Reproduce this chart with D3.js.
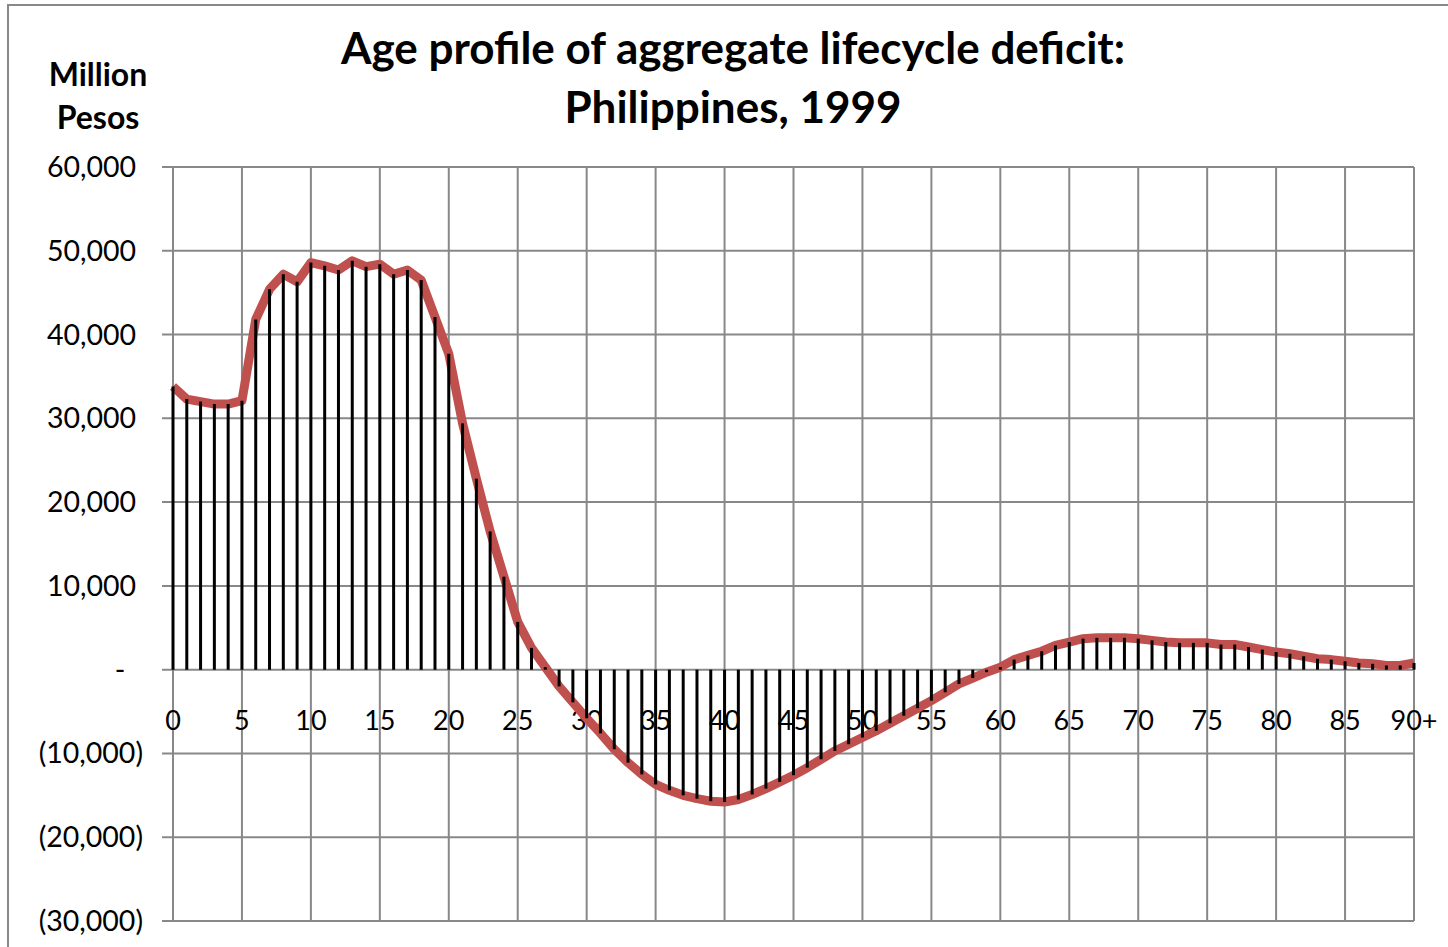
<!DOCTYPE html>
<html>
<head>
<meta charset="utf-8">
<script src="https://cdn.jsdelivr.net/npm/d3@7"></script>
<style>
  body { margin: 0; background: #fff; }
  svg { display: block; font-family: Lato, "Open Sans", sans-serif; }
</style>
</head>
<body>
<svg id="chart" width="1448" height="947"></svg>
<script>
// age profile of aggregate lifecycle deficit, million pesos, ages 0..90+
var ages = d3.range(0, 91);
var deficit = [
  33800, 32300, 32000, 31700, 31700, 32100, 41800, 45400, 47200, 46300,
  48600, 48200, 47700, 48800, 48100, 48400, 47200, 47700, 46500, 42100,
  37700, 29400, 22800, 16500, 11100, 5700, 2600, 300, -2000, -3900,
  -5800, -7600, -9500, -11100, -12500, -13700, -14400, -15000, -15400, -15700,
  -15800, -15500, -14900, -14200, -13400, -12600, -11700, -10700, -9700, -8900,
  -8100, -7300, -6400, -5500, -4600, -3700, -2700, -1700, -1000, -300,
  300, 1200, 1700, 2200, 2900, 3300, 3700, 3800, 3800, 3800,
  3700, 3500, 3300, 3200, 3200, 3200, 3000, 3000, 2700, 2400,
  2100, 1900, 1600, 1300, 1200, 1000, 800, 700, 500, 500,
  800
];
var yTicks = [-30000, -20000, -10000, 0, 10000, 20000, 30000, 40000, 50000, 60000];
var xTicks = d3.range(0, 91, 5);
var xTickLabels = xTicks.map(function(a) { return a === 90 ? "90+" : String(a); });
var titleLines = ["Age profile of aggregate lifecycle deficit:", "Philippines, 1999"];
var unitLines = ["Million", "Pesos"];

var svg = d3.select("#chart");
var GRID = "#888888", RED = "#C0504D";

var x = d3.scaleLinear().domain([0, 90]).range([173, 1414]);
var y = d3.scaleLinear().domain([-30000, 60000]).range([921, 167]);

// outer frame
svg.append("rect")
    .attr("x", 8).attr("y", 5)
    .attr("width", 1450).attr("height", 960)
    .attr("fill", "none").attr("stroke", GRID).attr("stroke-width", 2);

// grid
svg.append("g").selectAll("line")
    .data(yTicks).enter().append("line")
    .attr("x1", 162).attr("x2", x(90))
    .attr("y1", function(d) { return y(d); })
    .attr("y2", function(d) { return y(d); })
    .attr("stroke", GRID).attr("stroke-width", 2);

svg.append("g").selectAll("line")
    .data(xTicks).enter().append("line")
    .attr("x1", function(d) { return x(d); })
    .attr("x2", function(d) { return x(d); })
    .attr("y1", y(60000)).attr("y2", y(-30000))
    .attr("stroke", GRID).attr("stroke-width", 2);

// y labels, accounting style
var fmt = d3.format(",");
svg.append("g").selectAll("text")
    .data(yTicks).enter().append("text")
    .attr("x", function(d) { return d < 0 ? 143 : (d === 0 ? 120 : 136); })
    .attr("y", function(d) { return y(d); })
    .attr("dy", "0.35em")
    .attr("text-anchor", function(d) { return d === 0 ? "middle" : "end"; })
    .attr("font-size", 28.5)
    .attr("fill", "#000")
    .text(function(d) {
      if (d === 0) return "-";
      return d < 0 ? "(" + fmt(-d) + ")" : fmt(d);
    });

// x labels sit just below the zero line
svg.append("g").selectAll("text")
    .data(xTicks).enter().append("text")
    .attr("x", function(d) { return x(d); })
    .attr("y", y(0) + 60)
    .attr("text-anchor", "middle")
    .attr("font-size", 27)
    .attr("fill", "#000")
    .text(function(d, i) { return xTickLabels[i]; });

// red line
var line = d3.line()
    .x(function(d, i) { return x(ages[i]); })
    .y(function(d) { return y(d); });

svg.append("path")
    .datum(deficit)
    .attr("d", line)
    .attr("fill", "none")
    .attr("stroke", RED)
    .attr("stroke-width", 9)
    .attr("stroke-linejoin", "round");

// drop lines on top
svg.append("g").selectAll("line")
    .data(deficit).enter().append("line")
    .attr("x1", function(d, i) { return x(ages[i]); })
    .attr("x2", function(d, i) { return x(ages[i]); })
    .attr("y1", y(0))
    .attr("y2", function(d) { return y(d); })
    .attr("stroke", "#000")
    .attr("stroke-width", 3);

// titles
svg.append("g").selectAll("text")
    .data(titleLines).enter().append("text")
    .attr("x", 733)
    .attr("y", function(d, i) { return 64 + i * 59; })
    .attr("text-anchor", "middle")
    .attr("font-size", 44)
    .attr("font-weight", "bold")
    .text(function(d) { return d; });

svg.append("g").selectAll("text")
    .data(unitLines).enter().append("text")
    .attr("x", 98)
    .attr("y", function(d, i) { return 86 + i * 43; })
    .attr("text-anchor", "middle")
    .attr("font-size", 32)
    .attr("font-weight", "bold")
    .text(function(d) { return d; });
</script>
</body>
</html>
